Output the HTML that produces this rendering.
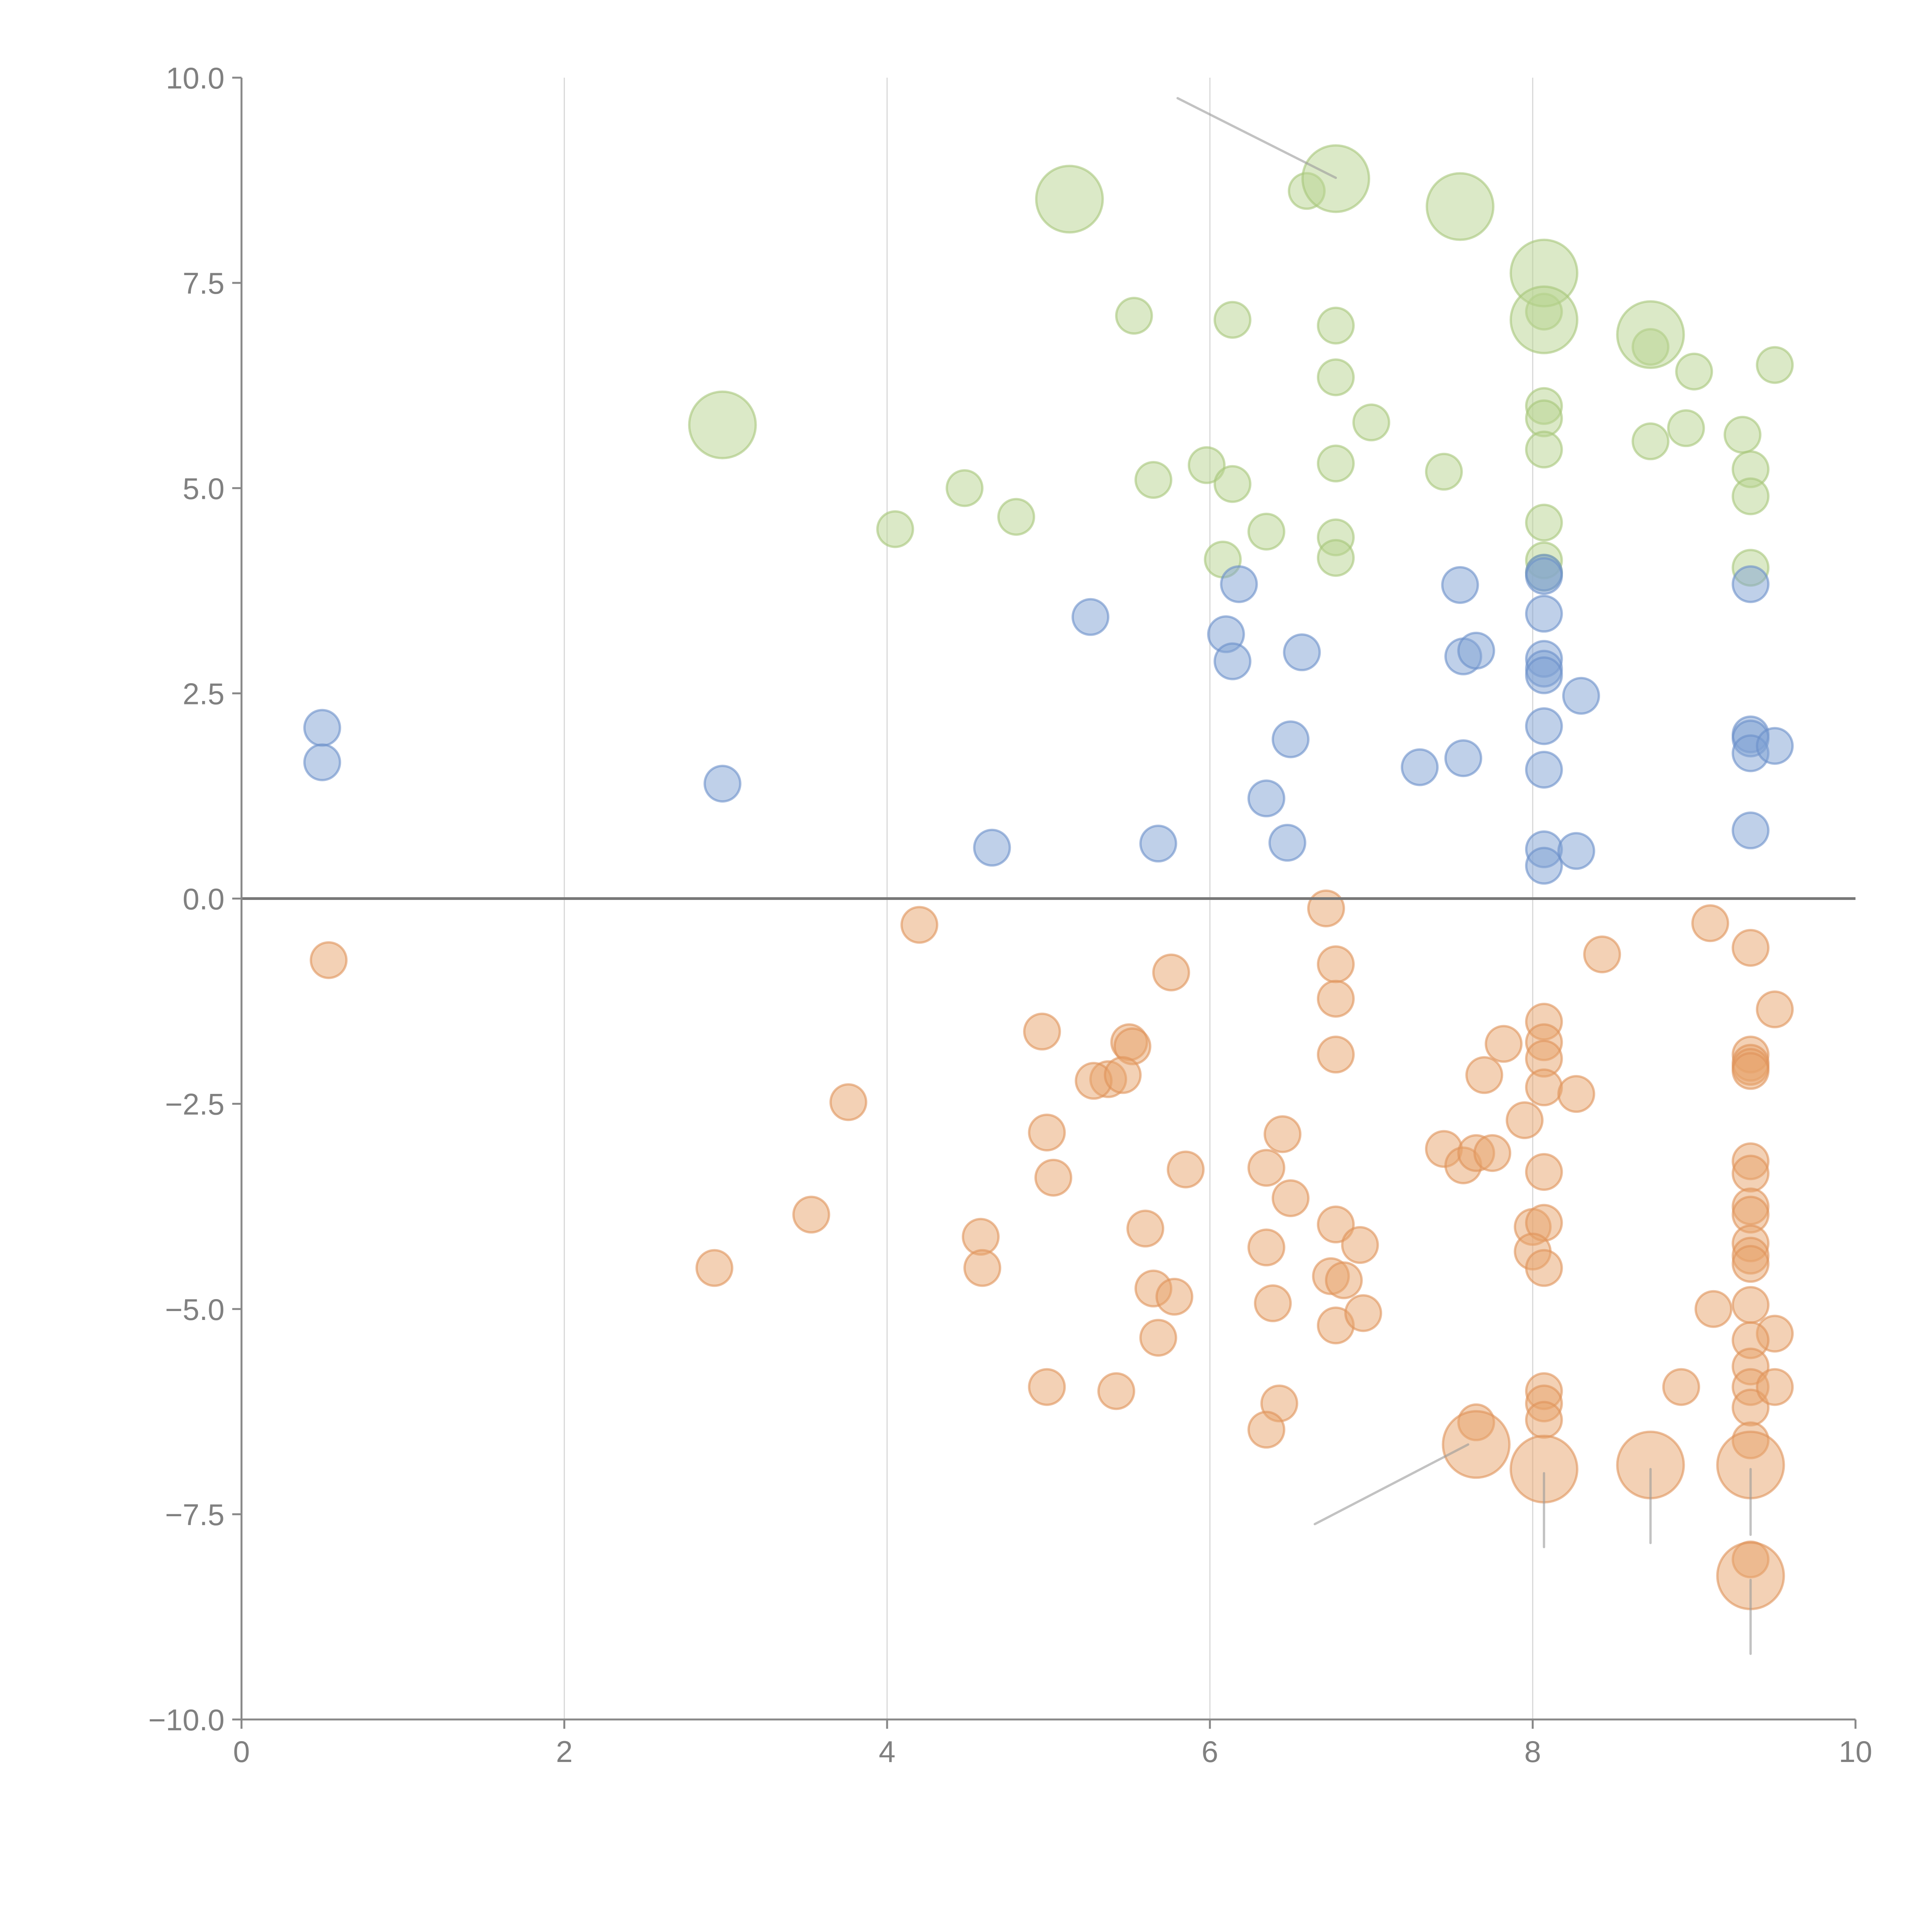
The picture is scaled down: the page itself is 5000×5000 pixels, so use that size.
<!DOCTYPE html>
<html><head><meta charset="utf-8"><style>
html,body{margin:0;padding:0;background:#fff;width:5000px;height:5000px;overflow:hidden}
svg{display:block}
svg text{font-family:"Liberation Sans",sans-serif;fill:#808080;font-size:78px}
</style></head><body>
<svg id="chart" width="5000" height="5000" xmlns="http://www.w3.org/2000/svg">
<g id="grid"></g>
<g id="marks"></g>
<g id="axes"></g>
</svg>
<script>
const xTicks=[0,2,4,6,8,10];
const yTicks=[-10,-7.5,-5,-2.5,0,2.5,5,7.5,10];
const greenSmall=[[6.6,8.62],[5.53,7.1],[6.14,7.05],[6.78,6.98],[6.78,6.35],[7.0,5.8],[8.07,7.15],[8.73,6.72],[9.0,6.42],[9.5,6.5],[8.07,6.0],[8.07,5.85],[8.07,5.47],[8.73,5.57],[8.95,5.73],[9.3,5.65],[9.35,5.23],[9.35,4.9],[9.35,4.03],[8.07,4.58],[8.07,4.12],[8.07,3.97],[7.45,5.2],[6.78,5.3],[5.98,5.28],[6.14,5.05],[5.65,5.1],[4.48,5.0],[4.8,4.65],[4.05,4.5],[6.35,4.47],[6.78,4.4],[6.78,4.15],[6.08,4.13]];
const greenLarge=[[5.13,8.52],[6.78,8.77],[7.55,8.43],[8.07,7.62],[8.07,7.05],[8.73,6.87],[2.98,5.77]];
const blueSmall=[[0.5,2.08],[0.5,1.66],[2.98,1.4],[4.65,0.62],[5.68,0.67],[5.26,3.43],[6.1,3.22],[6.18,3.83],[6.14,2.89],[6.57,3.0],[6.5,1.94],[6.35,1.22],[6.48,0.68],[7.3,1.6],[7.55,3.82],[7.57,2.95],[7.65,3.02],[7.57,1.71],[8.07,3.97],[8.07,3.93],[8.07,3.47],[8.07,2.92],[8.07,2.8],[8.07,2.72],[8.07,2.1],[8.07,1.57],[8.07,0.6],[8.07,0.4],[8.27,0.58],[8.3,2.47],[9.35,3.83],[9.35,2.0],[9.35,1.95],[9.35,1.77],[9.5,1.86],[9.35,0.83]];
const orangeSmall=[[0.54,-0.75],[4.2,-0.32],[6.72,-0.12],[6.78,-0.8],[6.78,-1.22],[6.78,-1.9],[5.76,-0.9],[4.96,-1.62],[5.5,-1.75],[5.52,-1.8],[5.37,-2.2],[5.28,-2.22],[5.46,-2.15],[3.76,-2.48],[4.99,-2.85],[5.03,-3.4],[5.85,-3.3],[6.35,-3.28],[6.45,-2.87],[6.5,-3.65],[3.53,-3.85],[2.93,-4.5],[4.58,-4.12],[4.59,-4.5],[5.6,-4.02],[5.65,-4.75],[5.78,-4.85],[5.68,-5.35],[6.35,-4.25],[6.39,-4.93],[6.78,-3.97],[6.93,-4.22],[6.75,-4.6],[6.83,-4.65],[6.78,-5.2],[6.95,-5.05],[4.99,-5.95],[5.42,-6.0],[6.43,-6.15],[6.35,-6.47],[7.65,-6.38],[7.45,-3.05],[7.57,-3.25],[7.65,-3.1],[7.75,-3.1],[7.7,-2.15],[7.82,-1.77],[7.95,-2.7],[8.07,-1.5],[8.07,-1.75],[8.07,-1.95],[8.07,-2.3],[8.27,-2.38],[8.07,-3.33],[8.0,-4.0],[8.07,-3.95],[8.0,-4.3],[8.07,-4.5],[8.07,-6.0],[8.07,-6.15],[8.07,-6.35],[8.43,-0.68],[9.1,-0.3],[9.35,-0.6],[9.5,-1.35],[9.35,-1.9],[9.35,-2.0],[9.35,-2.05],[9.35,-2.1],[9.35,-3.2],[9.35,-3.35],[9.35,-3.75],[9.35,-3.85],[9.35,-4.2],[9.35,-4.35],[9.35,-4.45],[9.35,-4.95],[9.12,-5.0],[9.5,-5.3],[9.35,-5.38],[9.35,-5.7],[9.35,-5.95],[9.35,-6.2],[9.5,-5.95],[8.92,-5.95],[9.35,-6.6],[9.35,-8.05]];
const orangeLarge=[[7.65,-6.65],[8.07,-6.95],[8.73,-6.9],[9.35,-6.9],[9.35,-8.25]];
const leaders=[[5.8,9.75,6.78,8.78],[6.65,-7.62,7.6,-6.65],[8.07,-7.0,8.07,-7.9],[8.73,-6.95,8.73,-7.85],[9.35,-6.95,9.35,-7.75],[9.35,-8.3,9.35,-9.2]];

const X0=625,X1=4802,Y0=4450,Y1=201;
const sx=v=>X0+(v-0)/(10-0)*(X1-X0);
const sy=v=>Y0-(v+10)/20*(Y0-Y1);
const NS="http://www.w3.org/2000/svg";
function mk(tag,parent,attrs){const e=document.createElementNS(NS,tag);for(const k in attrs)e.setAttribute(k,attrs[k]);parent.appendChild(e);return e;}
const grid=document.getElementById('grid'),marks=document.getElementById('marks'),axes=document.getElementById('axes');
xTicks.forEach(t=>{if(t>0&&t<10){const l=mk('line',grid,{x1:sx(t),x2:sx(t),y1:Y1,y2:Y0,stroke:'#d8d8d8','stroke-width':3});

}});
function dots(arr,r,fill,stroke,name){arr.forEach(p=>{const c=mk('circle',marks,{cx:sx(p[0]),cy:sy(p[1]),r:r,fill:fill,'fill-opacity':0.5,stroke:stroke,'stroke-opacity':0.6,'stroke-width':6});

});}
dots(greenSmall,46,'#b7d38f','#a6c77a','green-point');
dots(greenLarge,86,'#b7d38f','#a6c77a','green-large-point');
dots(blueSmall,46,'#7fa1d3','#6a8fc9','blue-point');
dots(orangeSmall,46,'#e8a36c','#e0935a','orange-point');
dots(orangeLarge,86,'#e8a36c','#e0935a','orange-large-point');
leaders.forEach(a=>{const l=mk('line',marks,{x1:sx(a[0]),y1:sy(a[1]),x2:sx(a[2]),y2:sy(a[3]),stroke:'#999','stroke-opacity':0.6,'stroke-width':6,'stroke-linecap':'round'});

});
const z=mk('line',axes,{x1:X0,x2:X1,y1:sy(0),y2:sy(0),stroke:'#777','stroke-width':7});


const ax=mk('line',axes,{x1:X0,x2:X1,y1:Y0,y2:Y0,stroke:'#888','stroke-width':5});


const ay=mk('line',axes,{x1:X0,x2:X0,y1:Y1,y2:Y0,stroke:'#888','stroke-width':5});


xTicks.forEach(t=>{const l=mk('line',axes,{x1:sx(t),x2:sx(t),y1:Y0,y2:Y0+24,stroke:'#888','stroke-width':5});


const tx=mk('text',axes,{x:sx(t),y:Y0+110,'text-anchor':'middle'});tx.textContent=String(t);

});
yTicks.forEach(t=>{const l=mk('line',axes,{x1:X0-24,x2:X0,y1:sy(t),y2:sy(t),stroke:'#888','stroke-width':5});


const tx=mk('text',axes,{x:X0-44,y:sy(t)+28,'text-anchor':'end'});tx.textContent=(t<0?'\u2212':'')+Math.abs(t).toFixed(1);

});
</script>
</body></html>
